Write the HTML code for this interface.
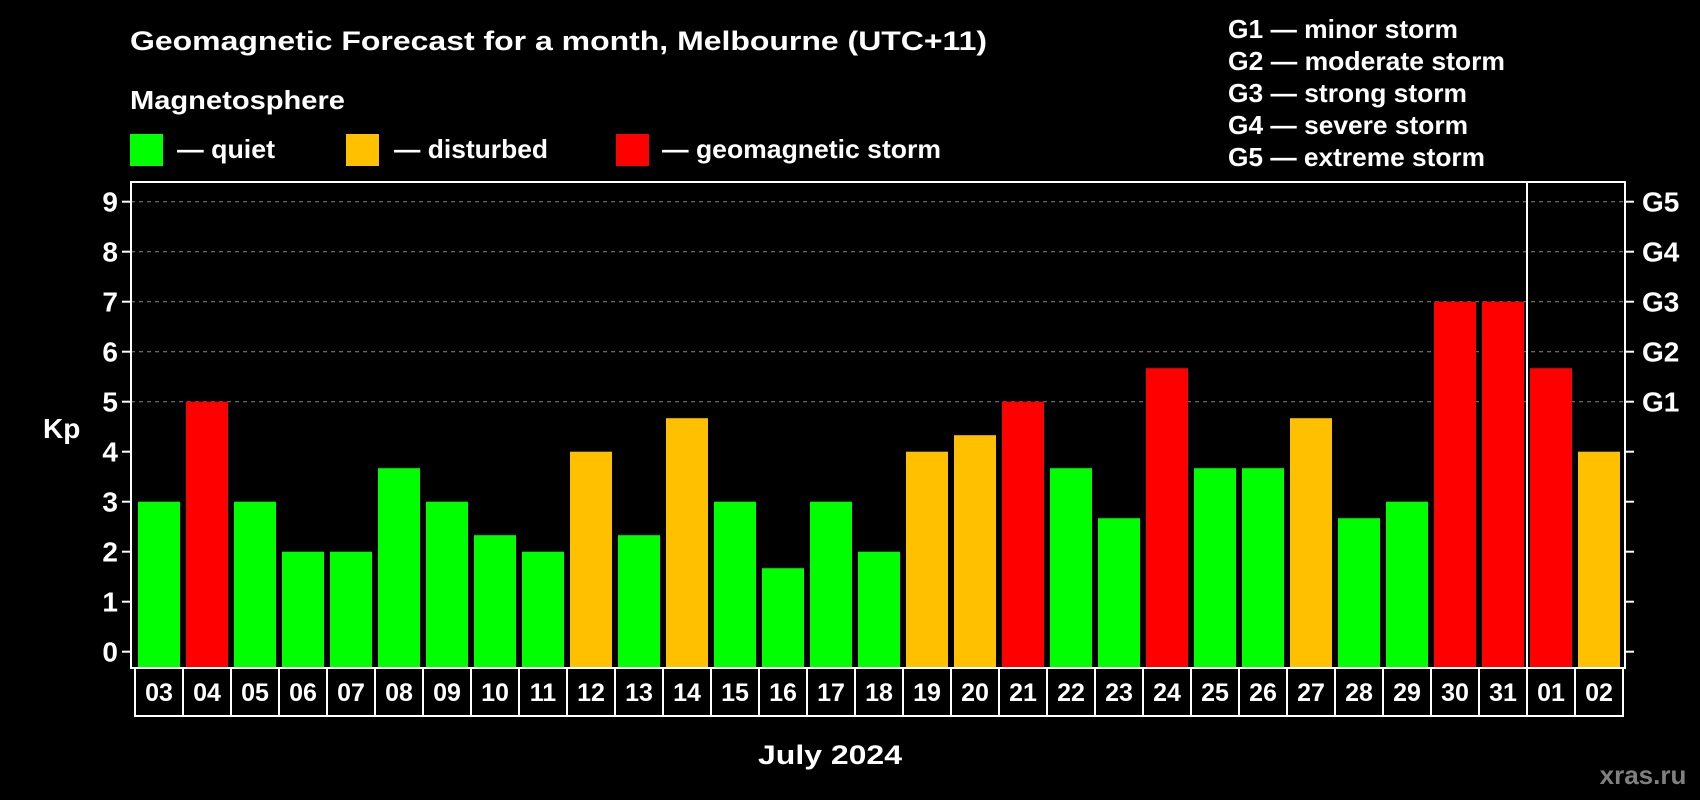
<!DOCTYPE html>
<html><head><meta charset="utf-8"><style>
html,body{margin:0;padding:0;background:#000;width:1700px;height:800px;overflow:hidden}
svg text{font-family:"Liberation Sans",sans-serif;font-weight:bold;fill:#fff}
</style></head><body>
<svg id="chart" width="1700" height="800">
<text x="130" y="50" font-size="27" textLength="857" lengthAdjust="spacingAndGlyphs">Geomagnetic Forecast for a month, Melbourne (UTC+11)</text>
<text x="130" y="109" font-size="26" textLength="215" lengthAdjust="spacingAndGlyphs">Magnetosphere</text>
<rect x="130" y="134" width="33" height="32" fill="#00ff00"/>
<text x="177" y="158" font-size="26" textLength="98" lengthAdjust="spacingAndGlyphs">— quiet</text>
<rect x="346" y="134" width="33" height="32" fill="#ffc000"/>
<text x="394" y="158" font-size="26" textLength="154" lengthAdjust="spacingAndGlyphs">— disturbed</text>
<rect x="616" y="134" width="33" height="32" fill="#ff0000"/>
<text x="662" y="158" font-size="26" textLength="279" lengthAdjust="spacingAndGlyphs">— geomagnetic storm</text>
<g font-size="26">
<text x="1228" y="38" textLength="230" lengthAdjust="spacingAndGlyphs">G1 — minor storm</text>
<text x="1228" y="70" textLength="277" lengthAdjust="spacingAndGlyphs">G2 — moderate storm</text>
<text x="1228" y="102" textLength="239" lengthAdjust="spacingAndGlyphs">G3 — strong storm</text>
<text x="1228" y="134" textLength="240" lengthAdjust="spacingAndGlyphs">G4 — severe storm</text>
<text x="1228" y="166" textLength="257" lengthAdjust="spacingAndGlyphs">G5 — extreme storm</text>
</g>
<text x="43" y="438" font-size="28">Kp</text>
<g id="grid"></g><g id="bars"></g><g id="axes"></g>
<text x="758" y="764" font-size="27" textLength="144" lengthAdjust="spacingAndGlyphs">July 2024</text>
<text x="1643" y="784" font-size="26" text-anchor="middle" style="fill:#808080">xras.ru</text>
</svg>
<script>
const dates=["03","04","05","06","07","08","09","10","11","12","13","14","15","16","17","18","19","20","21","22","23","24","25","26","27","28","29","30","31","01","02"];
const kp=[3,5,3,2,2,3.67,3,2.33,2,4,2.33,4.67,3,1.67,3,2,4,4.33,5,3.67,2.67,5.67,3.67,3.67,4.67,2.67,3,7,7,5.67,4];
const yTicks=[0,1,2,3,4,5,6,7,8,9];
const gLabels=["G1","G2","G3","G4","G5"];
const NS="http://www.w3.org/2000/svg";
const L=131,R=1625,T=182,B=668,cellX0=135,cellW=48,rowB=716;
const y=v=>651.7-50*v;
const x=i=>cellX0+i*cellW;
function mk(tag,at,parent){const e=document.createElementNS(NS,tag);for(const k in at)e.setAttribute(k,at[k]);parent.appendChild(e);return e;}
const grid=document.getElementById('grid'),bars=document.getElementById('bars'),axes=document.getElementById('axes');
yTicks.forEach(v=>{
  if(v>=5){const g=mk('line',{x1:L,x2:R,y1:y(v),y2:y(v),stroke:'#888','stroke-width':1,'stroke-dasharray':'4,4'},grid);
  
  }
  const t=mk('line',{x1:122,x2:L,y1:y(v),y2:y(v),stroke:'#fff','stroke-width':2},axes);
  
  
  const t2=mk('line',{x1:R,x2:1634,y1:y(v),y2:y(v),stroke:'#fff','stroke-width':2},axes);
  
  
  const lb=mk('text',{x:118,y:y(v)+10,'font-size':28,'text-anchor':'end'},axes);lb.textContent=v;
  
  
});
gLabels.forEach((g,i)=>{
  const lb=mk('text',{x:1642,y:y(5+i)+10,'font-size':28},axes);lb.textContent=g;
  
  
});
kp.forEach((v,i)=>{
  const c=v>=5?'#ff0000':(v>=4?'#ffc000':'#00ff00');
  const b=mk('rect',{x:x(i)+3,y:y(v),width:42,height:B-y(v),fill:c},bars);
  
  
  const cell=mk('rect',{x:x(i),y:B,width:cellW,height:rowB-B,fill:'none',stroke:'#fff','stroke-width':2},axes);
  
  
  const t=mk('text',{x:x(i)+cellW/2,y:B+33,'font-size':25,'text-anchor':'middle'},axes);t.textContent=dates[i];
  
  
});
const fr=mk('rect',{x:L,y:T,width:R-L,height:B-T,fill:'none',stroke:'#fff','stroke-width':2},axes);


const dv=mk('line',{x1:x(29),x2:x(29),y1:T,y2:B,stroke:'#fff','stroke-width':2},axes);


</script>
</body></html>
